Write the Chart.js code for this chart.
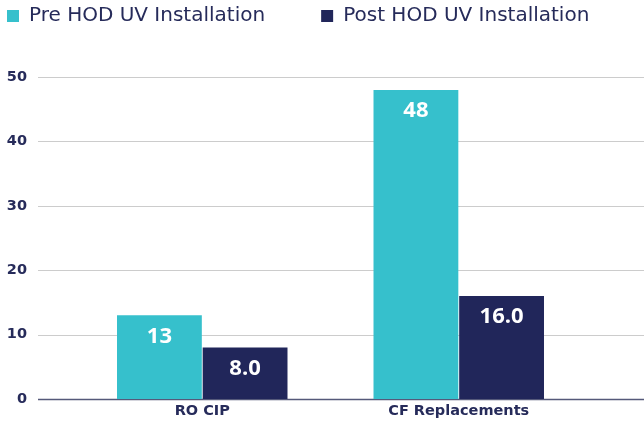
<!DOCTYPE html>
<html>
<head>
<meta charset="utf-8">
<script src="https://cdn.jsdelivr.net/npm/chart.js@4.4.0/dist/chart.umd.min.js"></script>
<style>
  html, body { margin: 0; padding: 0; background: #fff; }
  canvas { display: block; }
</style>
</head>
<body>
<canvas id="chart" width="644" height="425"></canvas>
<script>
// ── Data ───────────────────────────────────────────────
const categories = ["RO CIP", "CF Replacements"];
const preValues  = [13, 48];
const postValues = [8.0, 16.0];
const preLabel   = "Pre HOD UV Installation";
const postLabel  = "Post HOD UV Installation";
const yTicks     = [0, 10, 20, 30, 40, 50];

const TEAL = "#36c0cc";
const NAVY = "#21265a";
const TEXT = "#262b5a";
const FONT = "'DejaVu Sans'";

const LEGEND_GAP = 56;   // space between legend items
const LEGEND_H   = 77;   // room reserved above the plot

// gridlines run the full width, wider than the bar area
const fullGrid = {
    id: "fullGrid",
    beforeDatasetsDraw(chart) {
        const { ctx } = chart;
        const y = chart.scales.y;
        ctx.save();
        yTicks.forEach(v => {
            const py = Math.round(y.getPixelForValue(v)) + 0.5;
            ctx.strokeStyle = v === 0 ? "#55597a" : "#cccccc";
            ctx.lineWidth = v === 0 ? 1.5 : 1;
            ctx.beginPath();
            ctx.moveTo(38, py);
            ctx.lineTo(chart.width, py);
            ctx.stroke();
        });
        ctx.restore();
    },
};

// value labels inside the top of each bar
const barLabels = {
    id: "barLabels",
    afterDatasetsDraw(chart) {
        const { ctx } = chart;
        ctx.save();
        ctx.font = "bold 22px 'Open Sans'";
        ctx.fillStyle = "#ffffff";
        ctx.textAlign = "center";
        ctx.textBaseline = "middle";
        chart.data.datasets.forEach((ds, i) => {
            chart.getDatasetMeta(i).data.forEach((bar, j) => {
                const v = ds.data[j];
                const txt = i === 0 ? v.toFixed(0) : v.toFixed(1);
                ctx.fillText(txt, bar.x, bar.y + 21);
            });
        });
        ctx.restore();
    },
};

// legend: wide gap between items, one row, starting at the left edge
const legendPlace = {
    id: "legendPlace",
    beforeLayout(chart) {
        const lg = chart.legend;
        if (lg && !lg._patched) {
            const fit = lg.fit;
            lg.fit = function () {
                this.maxWidth = 2000;
                fit.call(this);
                this.height = LEGEND_H;
            };
            lg._patched = true;
        }
    },
    afterLayout(chart) {
        const lg = chart.legend;
        lg.left = 7 - LEGEND_GAP;
        lg.right = 2000;
        lg.top = 6 - LEGEND_GAP;
    },
};

new Chart(document.getElementById("chart"), {
    type: "bar",
    data: {
        labels: categories,
        datasets: [
            { label: preLabel,  data: preValues,  backgroundColor: TEAL },
            { label: postLabel, data: postValues, backgroundColor: NAVY },
        ],
    },
    options: {
        responsive: false,
        animation: false,
        datasets: { bar: { categoryPercentage: 0.668, barPercentage: 0.99 } },
        layout: { padding: { left: 0, right: 57, top: 0, bottom: 0 } },
        plugins: {
            legend: {
                align: "start",
                labels: {
                    boxWidth: 12,
                    boxHeight: 12,
                    padding: LEGEND_GAP,
                    color: TEXT,
                    font: { family: FONT, size: 20 },
                },
            },
            tooltip: { enabled: false },
        },
        scales: {
            x: {
                grid: { display: false, drawTicks: false },
                border: { display: false },
                afterFit(scale) { scale.height = 26; },
                ticks: { color: TEXT, font: { family: FONT, size: 14.5, weight: "bold" }, padding: 4 },
            },
            y: {
                min: 0,
                max: 50,
                grid: { display: false, drawTicks: false },
                border: { display: false },
                afterFit(scale) {
                    scale.width = 74;
                    scale.paddingTop = 9;
                    scale.paddingBottom = 9;
                },
                afterBuildTicks(scale) { scale.ticks = yTicks.map(v => ({ value: v })); },
                ticks: { color: TEXT, font: { family: FONT, size: 14.5, weight: "bold" }, padding: 47 },
            },
        },
    },
    plugins: [fullGrid, barLabels, legendPlace],
});
</script>
</body>
</html>
